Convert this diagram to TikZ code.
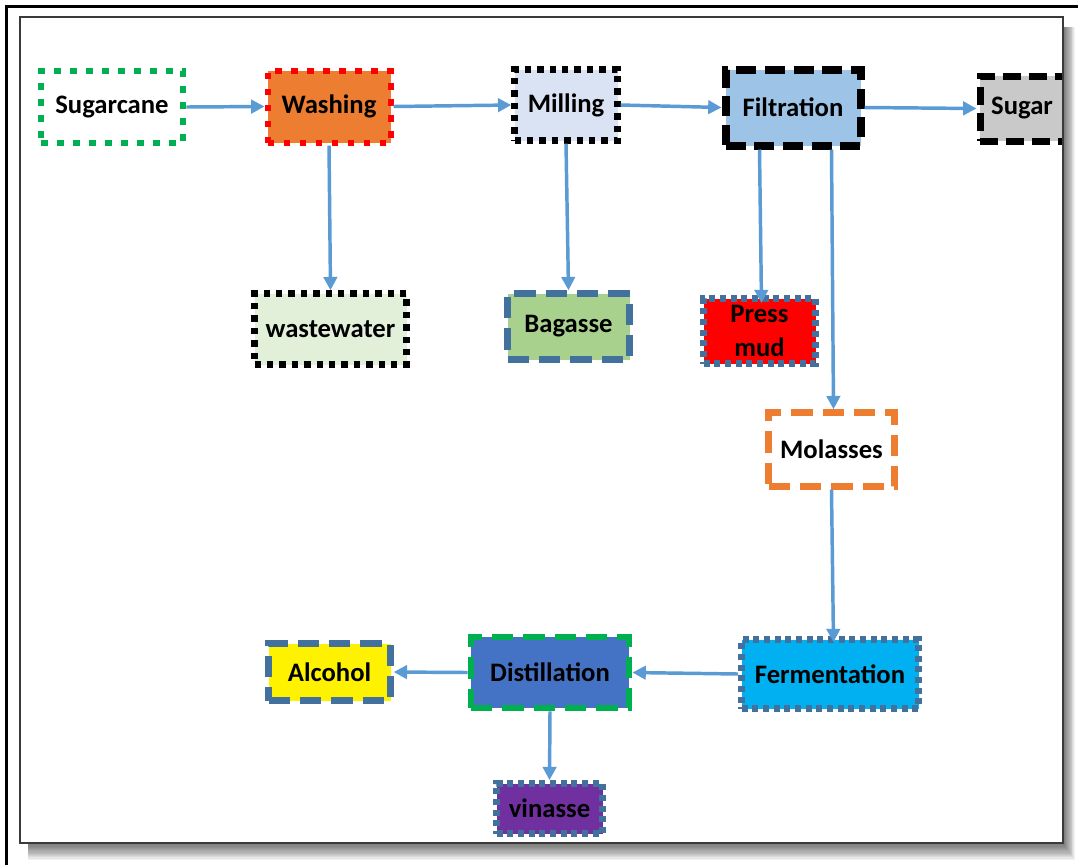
\documentclass[tikz,border=0pt]{standalone}
\usepackage{fontspec}
\setmainfont{Carlito}
\usetikzlibrary{arrows.meta,calc}

\definecolor{flowblue}{HTML}{5B9BD5}
\definecolor{slateblue}{HTML}{41719C}
\definecolor{okgreen}{HTML}{00B050}
\definecolor{washorange}{HTML}{ED7D31}
\definecolor{millfill}{HTML}{DAE3F3}
\definecolor{filtfill}{HTML}{9DC3E6}
\definecolor{sugarfill}{HTML}{C9C9C9}
\definecolor{wastefill}{HTML}{E2F0D9}
\definecolor{bagfill}{HTML}{A9D18E}
\definecolor{fermfill}{HTML}{00B0F0}
\definecolor{distfill}{HTML}{4472C4}
\definecolor{vinfill}{HTML}{7030A0}
\definecolor{framegray}{HTML}{3A3A3A}

\tikzset{
  box/.style={draw, rectangle, inner sep=0pt, line join=miter, text=black,
    font=\bfseries\fontsize{20}{22}\selectfont},
  dotbig/.style={line width=5pt, dash pattern=on 5pt off 7pt},
  dotmid/.style={line width=4.5pt, dash pattern=on 5pt off 7pt},
  dotfine/.style={line width=4.8pt, dash pattern=on 4.8pt off 4.5pt},
  dotsmall/.style={line width=5pt, dash pattern=on 4.5pt off 3.5pt},
  dashheavy/.style={line width=6pt, dash pattern=on 15pt off 6.5pt},
  dashbold/.style={line width=5.25pt, dash pattern=on 13.5pt off 6pt},
  dashlong/.style={line width=4.8pt, dash pattern=on 16pt off 7.5pt},
  flow/.style={draw=flowblue, line width=2.6pt,
    -{Triangle[length=10pt,width=10pt]}},
}

\begin{document}
\begin{tikzpicture}[x=0.75pt,y=-0.75pt]
  \useasboundingbox (0,0) rectangle (1078,865);

  % outer page rule
  \draw[line width=2.4pt] (6.5,865) -- (6.5,6.5) -- (1078,6.5);

  % soft shadow of the sheet
  \foreach \k in {1,...,14}
    \fill[black,opacity=0.05] (28,27) rectangle ({1063+0.85*\k},{843+1.2*\k});
  \fill[white] (20,17) rectangle (1063,843);

  \begin{scope}
    \clip (20,17) rectangle (1063,843);

    % top row
    \node[box, dotbig, draw=okgreen, fill=white,
          minimum width=106.5pt, minimum height=54pt] (sc) at (112,107) {Sugarcane};
    \node[box, dotmid, draw=red, fill=washorange,
          minimum width=92.25pt, minimum height=54pt] (wa) at (329,106.5) {Washing};
    \node[box, dotfine, draw=black, fill=millfill,
          minimum width=77.25pt, minimum height=53.25pt] (mi) at (566,105) {Milling};
    \node[box, dashheavy, draw=black, fill=filtfill,
          minimum width=101.25pt, minimum height=57pt] (fi) at (793,107.5) {Filtration};
    \node[box, dashbold, draw=black, fill=sugarfill,
          minimum width=69pt, minimum height=48.75pt] (su) at (1026,108.5) {Sugar\hspace*{6pt}};

    % by-products
    \node[box, dotfine, draw=black, fill=wastefill,
          minimum width=114pt, minimum height=53.25pt] (ww) at (330.5,329) {wastewater};
    \node[box, dashlong, draw=slateblue, fill=bagfill,
          minimum width=91.5pt, minimum height=49.5pt] (ba) at (568.5,326.5) {Bagasse};
    \node[box, dotsmall, draw=slateblue, fill=red, align=center,
          font=\bfseries\fontsize{20}{25.5}\selectfont,
          minimum width=84pt, minimum height=48.75pt] (pm) at (759.5,331) {Press\\mud};
    \node[box, dashlong, draw=washorange, fill=white,
          minimum width=94.5pt, minimum height=55.5pt] (mo) at (831.5,449.5) {Molasses};

    % bottom row
    \node[box, dotsmall, draw=slateblue, fill=fermfill,
          minimum width=132.75pt, minimum height=51.75pt] (fe) at (830,674) {Fermentation};
    \node[box, dashlong, line width=5.2pt, draw=okgreen, fill=distfill,
          minimum width=118.5pt, minimum height=53.25pt] (di) at (550,672.5) {Distillation};
    \node[box, dashlong, draw=slateblue, fill=yellow,
          minimum width=91.5pt, minimum height=42.75pt] (al) at (329.5,672) {Alcohol};
    \node[box, dotsmall, draw=slateblue, fill=vinfill,
          minimum width=79.5pt, minimum height=37.5pt] (vi) at (549.5,808.5) {vinasse};

    % main line
    \draw[flow] (sc.east) -- (wa.west);
    \draw[flow] (wa.east) -- (mi.west);
    \draw[flow] (mi.east) -- (fi.west);
    \draw[flow] (fi.east) -- (su.west);

    % side streams
    \draw[flow] (wa.south) -- (ww.north);
    \draw[flow] (mi.south) -- (ba.north);
    \draw[flow] (fi.south -| pm.north) -- ($(pm.north)+(2,8)$);
    \draw[flow] (fi.south -| mo.north) -- ($(mo.north)+(2,0)$);
    \draw[flow] (mo.south) -- ($(mo.south |- fe.north)+(2,6)$);

    % alcohol line
    \draw[flow] (fe.west) -- (di.east);
    \draw[flow] (di.west) -- (al.east);
    \draw[flow] (di.south) -- (vi.north);
  \end{scope}

  % sheet edge
  \draw[framegray, line width=1.1pt] (20,17) rectangle (1063,843);
\end{tikzpicture}
\end{document}
